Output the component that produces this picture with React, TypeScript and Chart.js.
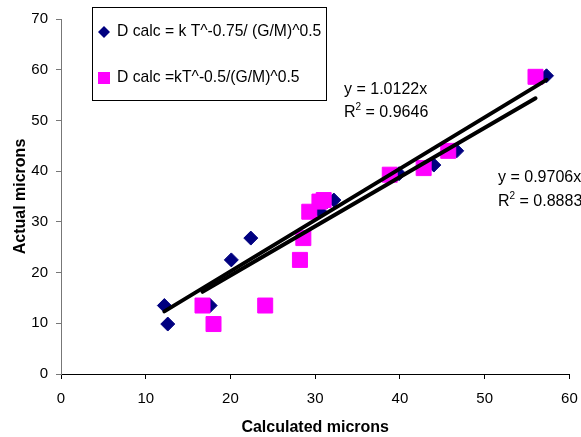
import React, { useEffect, useRef } from "react";
import { Chart, registerables } from "chart.js";

Chart.register(...registerables);

// ---- Data ----
const labelA = "D calc = k T^-0.75/ (G/M)^0.5";
const labelB = "D calc =kT^-0.5/(G/M)^0.5";

const calcA = [12.2, 12.6, 17.6, 20.1, 22.4, 30.6, 31.4, 32.2, 39.9, 44.0, 46.7, 57.3];
const actualA = [13.5, 9.85, 13.5, 22.5, 26.8, 32.0, 34.0, 34.3, 39.5, 41.2, 44.0, 58.8];

const calcB = [16.7, 18.0, 24.1, 28.2, 28.6, 29.3, 30.5, 31.0, 38.8, 42.8, 45.7, 56.0];
const actualB = [13.5, 9.85, 13.5, 22.5, 26.8, 32.0, 34.0, 34.3, 39.3, 40.6, 44.0, 58.6];

const slopeA = 1.0122;
const r2A = "0.9646";
const slopeB = 0.9706;
const r2B = "0.8883";

const xTitle = "Calculated microns";
const yTitle = "Actual microns";
const xMin = 0, xMax = 60, xStep = 10;
const yMin = 0, yMax = 70, yStep = 10;

const FONT = "'Liberation Sans', Arial, sans-serif";
const BLUE = "#000080";
const PINK = "#FF00FF";

function trend(xs: number[], slope: number) {
  const lo = Math.min(...xs);
  const hi = Math.max(...xs);
  return [
    { x: lo, y: slope * lo },
    { x: hi, y: slope * hi },
  ];
}

function drawR2(ctx: CanvasRenderingContext2D, value: string, x: number, y: number) {
  ctx.font = `16px ${FONT}`;
  ctx.fillText("R", x, y);
  const w = ctx.measureText("R").width;
  ctx.font = `10px ${FONT}`;
  ctx.fillText("2", x + w, y - 6);
  const w2 = ctx.measureText("2").width;
  ctx.font = `16px ${FONT}`;
  ctx.fillText(` = ${value}`, x + w + w2, y);
}

const overlayPlugin = {
  id: "overlay",
  afterDraw(chart: any) {
    const ctx = chart.ctx as CanvasRenderingContext2D;
    ctx.save();
    // legend box
    ctx.fillStyle = "#fff";
    ctx.fillRect(92.5, 7.5, 234, 93);
    ctx.strokeStyle = "#000";
    ctx.lineWidth = 1;
    ctx.strokeRect(92.5, 7.5, 234, 93);
    // blue diamond
    ctx.fillStyle = BLUE;
    ctx.beginPath();
    ctx.moveTo(104, 26);
    ctx.lineTo(110, 32);
    ctx.lineTo(104, 38);
    ctx.lineTo(98, 32);
    ctx.closePath();
    ctx.fill();
    // pink square
    ctx.fillStyle = PINK;
    ctx.fillRect(98, 72, 12, 12);
    ctx.fillStyle = "#000";
    ctx.font = `15.7px ${FONT}`;
    ctx.textBaseline = "middle";
    ctx.textAlign = "left";
    ctx.fillText(labelA, 117, 32);
    ctx.fillText(labelB, 117, 78);
    // trendline labels
    ctx.font = `16px ${FONT}`;
    ctx.fillText(`y = ${slopeA}x`, 344, 90);
    drawR2(ctx, r2A, 344, 113);
    ctx.font = `16px ${FONT}`;
    ctx.fillText(`y = ${slopeB}x`, 498, 178);
    drawR2(ctx, r2B, 498, 202);
    ctx.restore();
  },
};

export default function App() {
  const ref = useRef<HTMLCanvasElement | null>(null);

  useEffect(() => {
    if (!ref.current) return;
    const chart = new Chart(ref.current, {
      type: "scatter",
      data: {
        datasets: [
          {
            type: "line",
            label: "trendA",
            data: trend(calcA, slopeA),
            borderColor: "#000",
            borderWidth: 4,
            pointRadius: 0,
            borderCapStyle: "round",
            fill: false,
            order: 0,
          } as any,
          {
            type: "line",
            label: "trendB",
            data: trend(calcB, slopeB),
            borderColor: "#000",
            borderWidth: 4,
            pointRadius: 0,
            borderCapStyle: "round",
            fill: false,
            order: 0,
          } as any,
          {
            label: labelB,
            data: calcB.map((x, i) => ({ x, y: actualB[i] })),
            pointStyle: "rect",
            pointRadius: 10.6,
            backgroundColor: PINK,
            borderColor: PINK,
            borderWidth: 1,
            order: 1,
          },
          {
            label: labelA,
            data: calcA.map((x, i) => ({ x, y: actualA[i] })),
            pointStyle: "rectRot",
            pointRadius: 7,
            backgroundColor: BLUE,
            borderColor: BLUE,
            borderWidth: 1,
            order: 2,
          },
        ],
      },
      options: {
        responsive: false,
        animation: false,
        layout: { padding: { left: 0, top: 19, right: 10, bottom: 0 } },
        plugins: {
          legend: { display: false },
          tooltip: { enabled: false },
        },
        scales: {
          x: {
            type: "linear",
            min: xMin,
            max: xMax,
            afterFit: (s: any) => {
              s.height = 63;
              s.paddingLeft = 0;
              s.paddingRight = 0;
            },
            ticks: {
              stepSize: xStep,
              color: "#000",
              font: { family: FONT, size: 15 },
              padding: 11,
              maxRotation: 0,
            },
            grid: {
              display: true,
              drawOnChartArea: false,
              drawTicks: true,
              tickLength: 5,
              color: "#000",
            },
            border: { display: true, color: "#000", width: 1 },
            title: {
              display: true,
              text: xTitle,
              color: "#000",
              font: { family: FONT, size: 16, weight: "bold" },
              padding: { top: 0, bottom: 0 },
            },
          },
          y: {
            type: "linear",
            min: yMin,
            max: yMax,
            afterFit: (s: any) => {
              s.width = 61;
              s.paddingTop = 0;
              s.paddingBottom = 0;
            },
            ticks: {
              stepSize: yStep,
              color: "#000",
              font: { family: FONT, size: 15 },
              padding: 8,
            },
            grid: {
              display: true,
              drawOnChartArea: false,
              drawTicks: true,
              tickLength: 5,
              color: "#777",
            },
            border: { display: true, color: "#777", width: 1 },
            title: {
              display: true,
              text: yTitle,
              color: "#000",
              font: { family: FONT, size: 16, weight: "bold" },
              padding: { top: 11, bottom: 0 },
            },
          },
        },
      },
      plugins: [overlayPlugin],
    } as any);
    return () => chart.destroy();
  }, []);

  return (
    <div style={{ position: "absolute", left: 0, top: 0, width: 581, height: 437, background: "#fff" }}>
      <canvas ref={ref} width={581} height={437} style={{ display: "block" }} />
    </div>
  );
}
